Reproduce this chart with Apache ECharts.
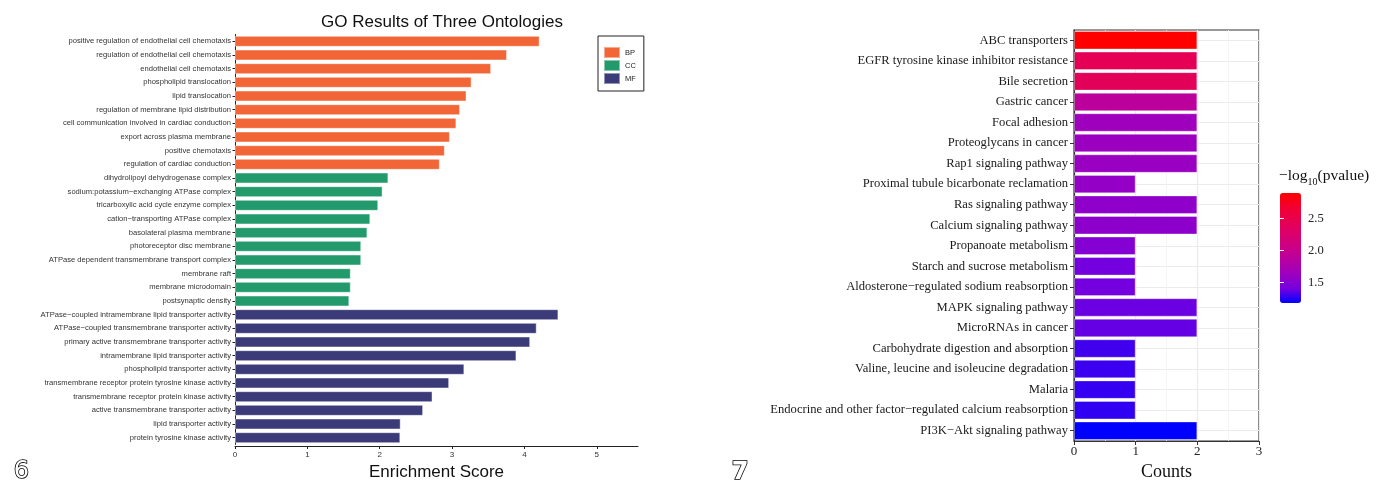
<!DOCTYPE html>
<html>
<head>
<meta charset="utf-8">
<script src="https://cdn.jsdelivr.net/npm/echarts@6/dist/echarts.min.js"></script>
<style>
  html, body { margin: 0; padding: 0; background: #fff; }
  #main { width: 1397px; height: 484px; }
</style>
</head>
<body>
<div id="main"></div>
<script>
// GO terms, top to bottom
var goTerms = [
  'positive regulation of endothelial cell chemotaxis',
  'regulation of endothelial cell chemotaxis',
  'endothelial cell chemotaxis',
  'phospholipid translocation',
  'lipid translocation',
  'regulation of membrane lipid distribution',
  'cell communication involved in cardiac conduction',
  'export across plasma membrane',
  'positive chemotaxis',
  'regulation of cardiac conduction',
  'dihydrolipoyl dehydrogenase complex',
  'sodium:potassium\u2212exchanging ATPase complex',
  'tricarboxylic acid cycle enzyme complex',
  'cation\u2212transporting ATPase complex',
  'basolateral plasma membrane',
  'photoreceptor disc membrane',
  'ATPase dependent transmembrane transport complex',
  'membrane raft',
  'membrane microdomain',
  'postsynaptic density',
  'ATPase\u2212coupled intramembrane lipid transporter activity',
  'ATPase\u2212coupled transmembrane transporter activity',
  'primary active transmembrane transporter activity',
  'intramembrane lipid transporter activity',
  'phospholipid transporter activity',
  'transmembrane receptor protein tyrosine kinase activity',
  'transmembrane receptor protein kinase activity',
  'active transmembrane transporter activity',
  'lipid transporter activity',
  'protein tyrosine kinase activity'
];
var goScore = [4.21, 3.76, 3.54, 3.27, 3.20, 3.11, 3.06, 2.97, 2.90, 2.83,
               2.12, 2.04, 1.98, 1.87, 1.83, 1.745, 1.745, 1.60, 1.60, 1.58,
               4.47, 4.17, 4.08, 3.89, 3.17, 2.96, 2.73, 2.60, 2.29, 2.285];
var goGroup = ['BP','BP','BP','BP','BP','BP','BP','BP','BP','BP',
               'CC','CC','CC','CC','CC','CC','CC','CC','CC','CC',
               'MF','MF','MF','MF','MF','MF','MF','MF','MF','MF'];
var goOntologies = ['BP', 'CC', 'MF'];
var goColors = { BP: '#f26536', CC: '#239a6b', MF: '#3a3b78' };
var goTicks = [0, 1, 2, 3, 4, 5];

// KEGG pathways, top to bottom
var keggTerms = [
  'ABC transporters',
  'EGFR tyrosine kinase inhibitor resistance',
  'Bile secretion',
  'Gastric cancer',
  'Focal adhesion',
  'Proteoglycans in cancer',
  'Rap1 signaling pathway',
  'Proximal tubule bicarbonate reclamation',
  'Ras signaling pathway',
  'Calcium signaling pathway',
  'Propanoate metabolism',
  'Starch and sucrose metabolism',
  'Aldosterone\u2212regulated sodium reabsorption',
  'MAPK signaling pathway',
  'MicroRNAs in cancer',
  'Carbohydrate digestion and absorption',
  'Valine, leucine and isoleucine degradation',
  'Malaria',
  'Endocrine and other factor\u2212regulated calcium reabsorption',
  'PI3K\u2212Akt signaling pathway'
];
var keggCounts = [2, 2, 2, 2, 2, 2, 2, 1, 2, 2, 1, 1, 1, 2, 2, 1, 1, 1, 1, 2];
var keggLogP = [2.90, 2.42, 2.40, 1.90, 1.64, 1.62, 1.61, 1.58, 1.55, 1.54,
                1.49, 1.40, 1.40, 1.38, 1.37, 1.30, 1.29, 1.28, 1.27, 1.18];
var colorbarTicks = [1.5, 2.0, 2.5];
// blue -> red ramp sampled in Lab space like ggplot's gradient
var rampColors = ['#0000ff', '#7300e0', '#9a00c2', '#b500a5', '#ca0088',
                  '#da006c', '#e8004f', '#f30030', '#ff0000'];

var sans = 'Liberation Sans';
var serif = 'Liberation Serif';

var myChart = echarts.init(document.getElementById('main'));

var goSeries = goOntologies.map(function (g) {
  return {
    name: g,
    type: 'bar',
    xAxisIndex: 0,
    yAxisIndex: 0,
    stack: 'go',
    barWidth: '80%',
    itemStyle: {
      color: goColors[g],
      borderColor: 'rgba(255,255,255,0.45)',
      borderWidth: 1
    },
    data: goScore.map(function (v, i) { return goGroup[i] === g ? v : '-'; })
  };
});

var option = {
  animation: false,
  title: [
    {
      text: 'GO Results of Three Ontologies',
      left: 437,
      top: 9,
      textAlign: 'center',
      textStyle: { fontFamily: sans, fontSize: 17, fontWeight: 'normal', color: '#111' }
    },
    {
      text: '{a|\u2212log}{b|10}{a|(pvalue)}',
      left: 1279,
      top: 164,
      padding: 0,
      textStyle: {
        fontWeight: 'normal',
        rich: {
          a: { fontFamily: serif, fontSize: 15.5, fontWeight: 'normal', color: '#111', lineHeight: 20, verticalAlign: 'bottom' },
          b: { fontFamily: serif, fontSize: 10, fontWeight: 'normal', color: '#111', lineHeight: 20, verticalAlign: 'bottom', padding: [0, 0, -3, 0] }
        }
      }
    }
  ],
  legend: {
    data: goOntologies,
    orient: 'vertical',
    left: 598,
    top: 36,
    itemWidth: 16,
    itemHeight: 11,
    itemGap: 0,
    padding: [10, 8, 6, 5],
    borderColor: '#222',
    borderWidth: 1,
    selectedMode: false,
    icon: 'rect',
    textStyle: { fontFamily: sans, fontSize: 7.5, color: '#222' }
  },
  grid: [
    { left: 235, top: 34.5, width: 403, height: 410, outerBoundsMode: 'none', containLabel: false },
    { left: 1074, top: 30, width: 185, height: 411, outerBoundsMode: 'none', show: true, borderColor: '#333', borderWidth: 1.2, containLabel: false },
    { left: 1280, top: 193, width: 21, height: 110, outerBoundsMode: 'none', containLabel: false }
  ],
  xAxis: [
    {
      type: 'value',
      gridIndex: 0,
      min: 0,
      max: 5.57,
      offset: 1.5,
      axisLine: { show: true, lineStyle: { color: '#222', width: 1 } },
      axisTick: { show: true, length: 3, customValues: goTicks, lineStyle: { color: '#222' } },
      axisLabel: { customValues: goTicks, fontFamily: sans, fontSize: 8, color: '#333', margin: 5 },
      splitLine: { show: false },
      name: 'Enrichment Score',
      nameLocation: 'middle',
      nameGap: 11,
      nameTextStyle: { fontFamily: sans, fontSize: 17, color: '#111' }
    },
    {
      type: 'value',
      gridIndex: 1,
      min: 0,
      max: 3,
      interval: 1,
      axisLine: { show: true, lineStyle: { color: '#333', width: 1.2 } },
      axisTick: { show: true, length: 4, lineStyle: { color: '#333' } },
      axisLabel: { fontFamily: serif, fontSize: 13, color: '#222', margin: 4 },
      splitLine: { show: true, lineStyle: { color: '#ebebeb', width: 1.2 } },
      minorTick: { show: false, splitNumber: 2 },
      minorSplitLine: { show: true, lineStyle: { color: '#f2f2f2', width: 0.8 } },
      name: 'Counts',
      nameLocation: 'middle',
      nameGap: 19,
      nameTextStyle: { fontFamily: serif, fontSize: 18, color: '#111' }
    },
    { type: 'value', gridIndex: 2, min: 0, max: 1, show: false }
  ],
  yAxis: [
    {
      type: 'category',
      gridIndex: 0,
      inverse: true,
      data: goTerms,
      axisLine: { show: true, lineStyle: { color: '#222', width: 1 } },
      axisTick: { show: true, length: 2.5, alignWithLabel: true, lineStyle: { color: '#222' } },
      axisLabel: { fontFamily: sans, fontSize: 7.6, color: '#333', margin: 4, interval: 0 },
      splitLine: { show: false }
    },
    {
      type: 'category',
      gridIndex: 1,
      inverse: true,
      data: keggTerms,
      axisLine: { show: true, lineStyle: { color: '#333', width: 1.2 } },
      axisTick: { show: true, length: 4, alignWithLabel: true, lineStyle: { color: '#333' } },
      axisLabel: { fontFamily: serif, fontSize: 12.6, color: '#1a1a1a', margin: 6, interval: 0 },
      splitLine: { show: true, alignWithLabel: true, lineStyle: { color: '#ebebeb', width: 1.2 } }
    },
    {
      type: 'value',
      gridIndex: 2,
      position: 'right',
      min: 1.18,
      max: 2.90,
      z: 10,
      axisLine: { show: false },
      splitLine: { show: false },
      axisTick: { show: true, inside: true, length: 4, customValues: colorbarTicks, lineStyle: { color: '#fff', width: 1 } },
      axisLabel: {
        customValues: colorbarTicks,
        fontFamily: serif, fontSize: 12.6, color: '#222', margin: 7,
        formatter: function (v) { return v.toFixed(1); }
      }
    },
    {
      type: 'value',
      gridIndex: 2,
      position: 'left',
      min: 1.18,
      max: 2.90,
      z: 10,
      axisLine: { show: false },
      splitLine: { show: false },
      axisTick: { show: true, inside: true, length: 4, customValues: colorbarTicks, lineStyle: { color: '#fff', width: 1 } },
      axisLabel: { show: false }
    }
  ],
  visualMap: {
    type: 'continuous',
    seriesIndex: 3,
    dimension: 2,
    min: 1.18,
    max: 2.90,
    left: 1280,
    top: 193,
    padding: 0,
    itemWidth: 21,
    itemHeight: 110,
    calculable: false,
    hoverLink: false,
    z: 1,
    inRange: { color: rampColors }
  },
  series: goSeries.concat([
    {
      name: 'KEGG',
      type: 'bar',
      xAxisIndex: 1,
      yAxisIndex: 1,
      barCategoryGap: '10%',
      itemStyle: { borderColor: 'rgba(255,255,255,0.35)', borderWidth: 1 },
      encode: { x: 0, y: 1 },
      data: keggTerms.map(function (t, i) { return [keggCounts[i], t, keggLogP[i]]; })
    }
  ]),
  graphic: [
    {
      type: 'text', left: 13, top: 459,
      style: { text: '6', fontFamily: 'DejaVu Sans', fontSize: 24, fill: '#fff', stroke: '#000', lineWidth: 1.6 }
    },
    {
      type: 'text', left: 731, top: 460,
      style: { text: '7', fontFamily: 'DejaVu Sans', fontSize: 24, fontWeight: 'bold', fill: '#fff', stroke: '#000', lineWidth: 1.6 }
    }
  ]
};

myChart.setOption(option);
</script>
</body>
</html>
